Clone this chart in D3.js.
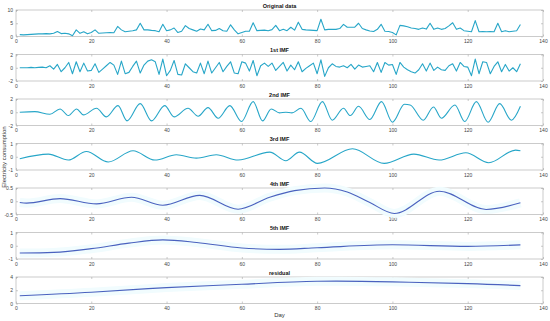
<!DOCTYPE html>
<html>
<head>
<meta charset="utf-8">
<script src="https://cdn.jsdelivr.net/npm/d3@7"></script>
<style>
  body { margin: 0; background: #fff; }
  svg { font-family: "Liberation Sans", Arial, sans-serif; }
</style>
</head>
<body>
<div id="chart"></div>
<script>
// daily series (day 1..134)
var originalData = [0.7,0.6,0.7,0.8,0.9,1.0,1.0,1.1,1.0,1.2,1.9,1.1,1.2,1.0,0.3,2.5,1.2,1.8,1.0,1.5,
  2.5,1.2,1.3,1.4,1.5,1.4,3.8,2.5,1.8,2.0,2.2,2.5,5.0,2.5,2.5,2.3,2.2,1.8,4.6,2.2,
  2.5,3.2,1.5,2.0,4.1,3.0,2.5,2.0,2.8,2.5,4.6,2.2,2.3,3.0,2.2,2.0,4.4,2.5,1.0,1.5,
  2.0,2.0,5.2,2.2,2.3,2.4,2.2,2.6,4.2,2.2,2.7,2.2,3.5,2.4,5.4,2.7,2.5,2.4,2.3,2.2,
  6.5,2.5,2.7,2.7,2.7,3.0,4.6,3.5,3.5,3.5,5.0,3.0,2.5,2.1,1.9,2.7,4.6,2.0,1.9,1.5,
  0.6,4.2,4.0,3.7,3.2,3.0,2.7,3.2,2.8,5.0,2.7,3.2,2.7,3.0,4.0,5.2,2.7,3.2,2.2,2.0,
  1.8,6.0,1.8,1.9,1.8,1.9,1.8,5.0,1.8,2.2,1.8,2.0,2.2,4.5];

var imf1Data = [0,0,0,0.05,0,0.05,0.1,0,0.3,-0.2,0.5,-0.6,0,0.8,-0.9,0.9,-0.6,0.7,-0.5,-0.4,
  0.6,-0.7,-0.2,0.3,0.8,0.4,-1.0,1.0,-0.9,-0.7,0.2,1.0,-0.8,0.4,1.0,1.2,0.9,-1.0,1.3,-1.2,
  -0.4,1.1,-1.0,-1.1,0.6,0,-0.6,-0.8,0.7,-0.9,1.0,-0.8,0,0.8,-0.6,0.2,0.9,-0.8,-0.9,0.9,
  0.7,-0.5,1.1,-1.2,0.3,0.7,0.2,0.7,-0.4,0.2,0.8,-0.5,0.4,-0.3,0.9,-0.6,-0.1,0.3,0.7,-0.9,
  1.2,-1.3,0,0.6,0.2,0.1,0.3,0,0.5,-0.2,0.4,0.1,0.2,0.3,-0.6,0.8,-0.7,0.8,0.4,0.5,
  -1.0,0.8,0.1,-0.3,-0.6,-0.8,-0.3,0.6,-0.5,0.7,-0.4,0.1,-0.3,-0.4,0.3,0.6,-0.5,0.8,0.2,0.1,
  -1.2,1.3,-0.9,0.9,0.8,-0.9,0.2,0.9,-0.6,0.5,-0.5,0,-0.6,0.6];

// smooth components: key points (day, value) read at the extrema
var imf2Days = [1,5,9,11.7,13.9,16.1,17.9,21.4,24,27.1,29.5,33,36,39.5,42,45.7,48.4,51,53.7,56.8,59.9,63,65.5,
  67.8,70,71.7,73.3,75.7,78.3,81.4,84,87,88.8,91,94,97.1,100,103.2,104.7,108.2,110.9,113,116.6,119.2,122.3,125.4,128.5,131.6,134];
var imf2Vals = [0,0.1,-0.3,0.5,-0.5,0.5,-0.4,0.6,-0.7,1.0,-1.3,1.3,-1.3,1.0,-0.7,0.6,-0.6,0.7,-0.9,1.0,-1.4,1.6,-1.3,
  0.5,-0.1,0,-0.1,0.6,-1.4,1.6,-1.2,0.6,-0.5,0.9,-1.1,1.6,-1.5,1.2,1.1,-1.2,0.8,-0.9,1.1,-1.4,1.6,-1.5,1.3,-1.2,0.9];

var imf3Days = [1,8.6,13.9,18.7,24.5,31.1,36.9,42.6,47.9,53.2,59,67.4,71.7,75.3,80.1,89.4,97.8,105.7,112.4,119.5,125.6,132.7,134];
var imf3Vals = [-0.15,0.2,-0.25,0.4,-0.4,0.45,-0.25,0.15,-0.1,0.15,-0.25,0.35,-0.3,0.35,-0.5,0.6,-0.5,0.2,-0.25,0.3,-0.45,0.5,0.45];

var imf4Days = [1,2.8,11.7,21.4,30.7,39,48.8,59,67.4,74,82,88,94,100.5,112.5,124.9,134];
var imf4Vals = [-0.05,-0.07,0.1,-0.1,0.15,-0.15,0.22,-0.3,0.15,0.4,0.5,0.35,-0.05,-0.46,0.38,-0.31,-0.06];

var imf5Days = [1,10,20,30,39,48,60,70,80,100,120,134];
var imf5Vals = [-0.55,-0.5,-0.22,0.2,0.44,0.25,-0.17,-0.27,-0.15,0.07,-0.05,0.07];

var residualDays = [1,20,40,60,80,100,120,134];
var residualVals = [1.17,1.7,2.4,2.9,3.35,3.27,3.0,2.7];

var xTicks = [0,20,40,60,80,100,120,140];

var days = originalData.map(function (d, i) { return i + 1; });
function pairs(xs, ys) { return xs.map(function (x, i) { return { x: x, y: ys[i] }; }); }

var teal = "#27a6c8", blue = "#4a62bf";
var panels = [
  { title: "Original data", data: pairs(days, originalData), domain: [0, 10], ticks: [0, 5, 10], color: teal, curve: d3.curveLinear },
  { title: "1st IMF", data: pairs(days, imf1Data), domain: [-2, 2], ticks: [-2, 0, 2], color: teal, curve: d3.curveLinear },
  { title: "2nd IMF", data: pairs(imf2Days, imf2Vals), domain: [-2, 2], ticks: [-2, 0, 2], color: teal, curve: d3.curveMonotoneX },
  { title: "3rd IMF", data: pairs(imf3Days, imf3Vals), domain: [-1, 1], ticks: [-1, 0, 1], color: teal, curve: d3.curveMonotoneX },
  { title: "4th IMF", data: pairs(imf4Days, imf4Vals), domain: [-0.5, 0.5], ticks: [-0.5, 0, 0.5], color: blue, curve: d3.curveMonotoneX, halo: true },
  { title: "5th IMF", data: pairs(imf5Days, imf5Vals), domain: [-1, 1], ticks: [-1, 0, 1], color: blue, curve: d3.curveMonotoneX, halo: true },
  { title: "residual", data: pairs(residualDays, residualVals), domain: [0, 4], ticks: [0, 2, 4], color: blue, curve: d3.curveNatural, halo: true }
];

var W = 550, H = 321;
var left = 16, right = 543, top0 = 10, step = 44.5, ph = 26.5;

var svg = d3.select("#chart").append("svg").attr("width", W).attr("height", H);

var x = d3.scaleLinear().domain([0, 140]).range([left, right]);

panels.forEach(function (p, i) {
  var t = top0 + i * step;
  var y = d3.scaleLinear().domain(p.domain).range([t + ph, t]);
  var g = svg.append("g");

  // ticks inside the box on all four sides
  g.append("g").attr("transform", "translate(0," + (t + ph) + ")")
    .call(d3.axisBottom(x).tickValues(xTicks).tickSize(-2).tickPadding(3).tickFormat(String))
    .call(styleAxis);
  g.append("g").attr("transform", "translate(0," + t + ")")
    .call(d3.axisTop(x).tickValues(xTicks).tickSize(-2).tickFormat(""))
    .call(styleAxis);
  g.append("g").attr("transform", "translate(" + left + ",0)")
    .call(d3.axisLeft(y).tickValues(p.ticks).tickSize(-2).tickPadding(3).tickFormat(String))
    .call(styleAxis);
  g.append("g").attr("transform", "translate(" + right + ",0)")
    .call(d3.axisRight(y).tickValues(p.ticks).tickSize(-2).tickFormat(""))
    .call(styleAxis);

  g.append("rect")
    .attr("x", left).attr("y", t).attr("width", right - left).attr("height", ph)
    .attr("fill", "none").attr("stroke", "#a8a8a8").attr("stroke-width", 0.6);

  var line = d3.line().x(function (d) { return x(d.x); }).y(function (d) { return y(d.y); }).curve(p.curve);

  if (p.halo) {
    g.append("path").datum(p.data).attr("d", line)
      .attr("fill", "none").attr("stroke", "#f1fcfe").attr("stroke-width", 9);
  }
  g.append("path").datum(p.data).attr("d", line)
    .attr("fill", "none").attr("stroke", p.color).attr("stroke-width", 1.1)
    .attr("stroke-linejoin", "round");

  g.append("text")
    .attr("x", (left + right) / 2).attr("y", t - 2.5)
    .attr("text-anchor", "middle")
    .style("font-size", "5.5px").style("font-weight", "bold").attr("fill", "#111")
    .text(p.title);
});

function styleAxis(sel) {
  sel.select(".domain").remove();
  sel.selectAll(".tick line").attr("stroke", "#a8a8a8").attr("stroke-width", 0.6);
  sel.selectAll(".tick text").attr("fill", "#444").style("font-size", "5px");
}

// axis labels
svg.append("text")
  .attr("x", (left + right) / 2).attr("y", 317)
  .attr("text-anchor", "middle").style("font-size", "6px").attr("fill", "#333")
  .text("Day");

svg.append("text")
  .attr("transform", "translate(6,157) rotate(-90)")
  .attr("text-anchor", "middle").style("font-size", "6px").attr("fill", "#333")
  .text("Electricity consumption");
</script>
</body>
</html>
